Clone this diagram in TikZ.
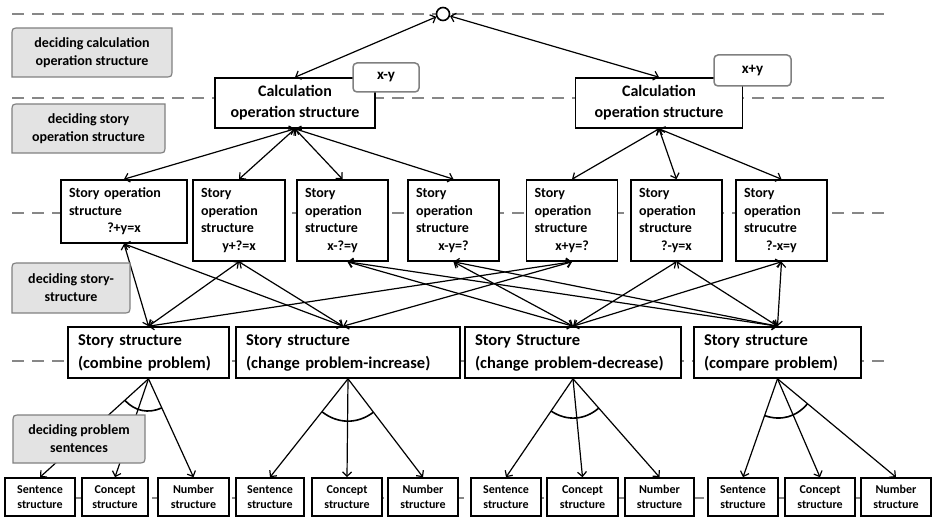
\documentclass[tikz,border=0pt]{standalone}
\usepackage{fontspec}
\setmainfont{Carlito}
\usetikzlibrary{arrows.meta,calc}
\newcommand\lblbox[6]{%
  \draw[lab] (#1+8,#2) -- (#3,#2) -- (#3,#4-8) .. controls (#3,#4) .. (#3-8,#4) -- (#1,#4) -- (#1,#2+8) .. controls (#1,#2) .. (#1+8,#2) -- cycle;
  \node[labtxt] (#5) at ({(#1+#3)/2},{(#2+#4)/2}) {#6};}
\newcommand\eqline[1]{\leavevmode\null\hfill #1\hfill\null}
\begin{document}
\begin{tikzpicture}[x=1pt,y=-1pt,
  sep/.style={draw=black!47, line width=2.8pt, dash pattern=on 12pt off 8pt},
  bx/.style={draw=black, line width=1.6pt, fill=white, inner sep=0pt},
  calcbox/.style={bx, align=center, minimum height=50pt, font=\fontsize{16}{21}\selectfont\bfseries},
  tagbox/.style={draw=black!50, line width=1.5pt, rounded corners=4pt, fill=white, inner sep=0pt, font=\fontsize{15}{18}\selectfont\bfseries},
  sobox/.style={bx, align=left, inner xsep=8pt, text width=#1-16pt, minimum width=#1, font=\fontsize{14}{17.6}\selectfont\bfseries},
  ssbox/.style={bx, align=left, inner xsep=10pt, text width=#1-20pt, minimum width=#1, minimum height=51pt, font=\fontsize{16.5}{23}\selectfont\bfseries},
  btbox/.style={bx, align=center, minimum width=#1, minimum height=38pt, font=\fontsize{12}{14.5}\selectfont\bfseries},
  lab/.style={draw=black!50, fill=black!11, line width=1.2pt},
  labtxt/.style={align=center, inner sep=0pt, font=\fontsize{14}{18}\selectfont\bfseries},
  dbl/.style={{Straight Barb[length=4.5pt,width=9pt]}-{Straight Barb[length=4.5pt,width=9pt]}, line width=1.2pt},
  sgl/.style={-{Straight Barb[length=4.5pt,width=9pt]}, line width=1.2pt},
  arcst/.style={line width=1.6pt}
]
\useasboundingbox (0,0) rectangle (934,518);

% separator lines
\foreach \yy in {14,98,213,361,498} \draw[sep] (12,\yy) -- (890,\yy);

% top
\node[circle, draw, line width=1.6pt, minimum size=13pt, inner sep=0pt, fill=white] (top) at (443,14) {};

% calculation operation structures
\node[calcbox, minimum width=160pt] (calc1) at (295,103) {Calculation\\operation structure};
\node[calcbox, minimum width=167pt] (calc2) at (659,103) {Calculation\\operation structure};
\node[tagbox, minimum width=66pt, minimum height=29pt] (tag1) at (386,77.5) {x-y};
\node[tagbox, minimum width=77pt, minimum height=31pt] (tag2) at (752.5,70.5) {x+y};

% story operation structures
\node[sobox=126pt, minimum height=63pt] (so1) at (124,211.5) {Story operation\\structure\\\eqline{?+y=x}};
\node[sobox=92pt, minimum height=81pt] (so2) at (239,220.5) {Story\\operation\\structure\\\eqline{y+?=x}};
\node[sobox=91pt, minimum height=81pt] (so3) at (342.5,220.5) {Story\\operation\\structure\\\eqline{x-?=y}};
\node[sobox=91pt, minimum height=81pt] (so4) at (453.5,220.5) {Story\\operation\\structure\\\eqline{x-y=?}};
\node[sobox=91pt, minimum height=81pt] (so5) at (572,220.5) {Story\\operation\\structure\\\eqline{x+y=?}};
\node[sobox=91pt, minimum height=81pt] (so6) at (676.5,220.5) {Story\\operation\\structure\\\eqline{?-y=x}};
\node[sobox=91pt, minimum height=81pt] (so7) at (781.5,220.5) {Story\\operation\\strucutre\\\eqline{?-x=y}};

% story structures
\node[ssbox=161pt] (ss1) at (148.5,352.5) {Story structure\\(combine problem)};
\node[ssbox=224pt] (ss2) at (348,352.5) {Story structure\\(change problem-increase)};
\node[ssbox=216pt] (ss3) at (573,352.5) {Story Structure\\(change problem-decrease)};
\node[ssbox=167pt] (ss4) at (777.5,352.5) {Story structure\\(compare problem)};

% bottom structures
\node[btbox=70pt] (s1) at (40,497) {Sentence\\structure};
\node[btbox=66pt] (c1) at (115,497) {Concept\\structure};
\node[btbox=71pt] (n1) at (193.5,497) {Number\\structure};
\node[btbox=68pt] (s2) at (270,497) {Sentence\\structure};
\node[btbox=70pt] (c2) at (347,497) {Concept\\structure};
\node[btbox=70pt] (n2) at (423,497) {Number\\structure};
\node[btbox=70pt] (s3) at (506,497) {Sentence\\structure};
\node[btbox=71pt] (c3) at (582.5,497) {Concept\\structure};
\node[btbox=69pt] (n3) at (659.5,497) {Number\\structure};
\node[btbox=70pt] (s4) at (743,497) {Sentence\\structure};
\node[btbox=70pt] (c4) at (820,497) {Concept\\structure};
\node[btbox=70pt] (n4) at (896,497) {Number\\structure};

% connectors: top level
\draw[dbl] (top) -- (calc1.north);
\draw[dbl] (top) -- (calc2.north);
\foreach \s in {so1,so2,so3,so4} \draw[dbl] (calc1.south) -- (\s.north);
\foreach \s in {so5,so6,so7} \draw[dbl] (calc2.south) -- (\s.north);

% story operation <-> story structure
\coordinate (ss2t) at ([xshift=-5pt]ss2.north);
\coordinate (so3b) at ([xshift=5pt]so3.south);
\foreach \s in {so1,so2,so5} {
  \draw[dbl] (\s.south) -- (ss1.north);
  \draw[dbl] (\s.south) -- (ss2t);
}
\foreach \s in {so3b,so4.south,so6.south,so7.south} {
  \draw[dbl] (\s) -- (ss3.north);
  \draw[dbl] (\s) -- (ss4.north);
}

% story structure -> sentences
\foreach \i in {1,2,3,4} \foreach \b in {s,c,n} \draw[sgl] (ss\i.south) -- (\b\i.north);

% AND arcs
\draw[arcst] ($(ss1.south)!32pt!(s1.north)$) to[bend right=35.7] ($(ss1.south)!32pt!(n1.north)$);
\draw[arcst] ($(ss2.south)!42pt!(s2.north)$) to[bend right=37.5] ($(ss2.south)!42pt!(n2.north)$);
\draw[arcst] ($(ss3.south)!39pt!(s3.north)$) to[bend right=37.3] ($(ss3.south)!39pt!(n3.north)$);
\draw[arcst] ($(ss4.south)!39pt!(s4.north)$) to[bend right=34.4] ($(ss4.south)!39pt!(n4.north)$);

% phase labels
\lblbox{12}{28}{172}{77}{l1}{deciding calculation\\operation structure}
\lblbox{12}{104}{165}{153}{l2}{deciding story\\operation structure}
\lblbox{12}{263}{130}{313}{l3}{deciding story-\\structure}
\lblbox{13}{415}{145}{463}{l4}{deciding problem\\sentences}
\end{tikzpicture}
\end{document}
